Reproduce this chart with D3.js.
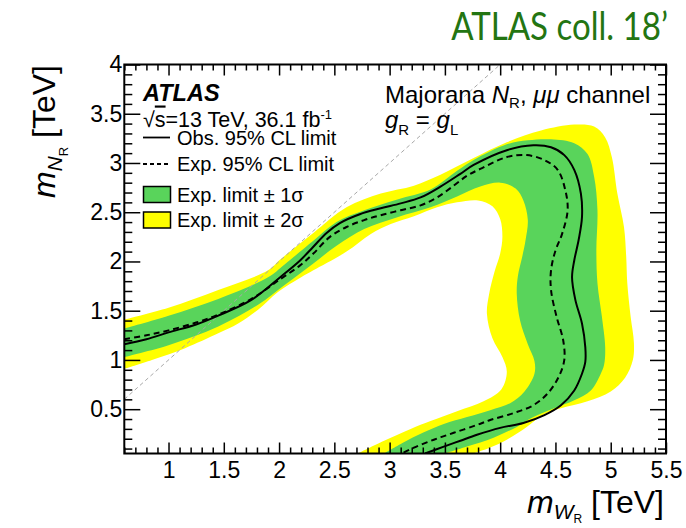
<!DOCTYPE html>
<html>
<head>
<meta charset="utf-8">
<script src="https://cdn.jsdelivr.net/npm/d3@7"></script>
<style>
  body { margin: 0; background: #fff; }
  svg text { font-family: "Liberation Sans", Arial, Helvetica, sans-serif; fill: #000; }
</style>
</head>
<body>
<svg id="chart" width="686" height="528"></svg>
<script>
// Axis ranges and tick labels (TeV)
const xDomain = [0.6, 5.5];
const yDomain = [0.05, 4];
const xTicks = [1, 1.5, 2, 2.5, 3, 3.5, 4, 4.5, 5, 5.5];
const yTicks = [0.5, 1, 1.5, 2, 2.5, 3, 3.5, 4];

// Limit contours as [m_WR, m_NR] pairs in TeV
const observed = [[0.60,1.16],[0.80,1.21],[1.00,1.28],[1.25,1.36],[1.45,1.45],[1.75,1.61],[2.01,1.84],[2.19,2.01],[2.31,2.15],[2.43,2.29],[2.55,2.39],[2.73,2.48],[2.92,2.54],[3.10,2.59],[3.28,2.65],[3.46,2.76],[3.64,2.89],[3.76,2.98],[4.06,3.13],[4.30,3.18],[4.46,3.16],[4.58,3.08],[4.67,2.93],[4.73,2.69],[4.74,2.45],[4.71,2.22],[4.67,2.01],[4.65,1.84],[4.68,1.61],[4.74,1.37],[4.77,1.13],[4.77,0.98],[4.74,0.86],[4.67,0.69],[4.55,0.54],[4.40,0.44],[4.21,0.36],[4.00,0.31],[3.79,0.24],[3.64,0.18],[3.49,0.12],[3.32,0.05]];
const expected = [[0.60,1.21],[0.80,1.25],[1.00,1.30],[1.25,1.38],[1.45,1.46],[1.75,1.62],[2.01,1.82],[2.19,1.96],[2.31,2.08],[2.46,2.25],[2.61,2.35],[2.77,2.42],[2.92,2.47],[3.10,2.52],[3.28,2.57],[3.43,2.65],[3.58,2.77],[3.70,2.87],[3.82,2.94],[4.06,3.06],[4.24,3.08],[4.40,3.03],[4.52,2.93],[4.59,2.72],[4.61,2.52],[4.56,2.28],[4.50,2.11],[4.46,1.91],[4.46,1.71],[4.51,1.44],[4.57,1.20],[4.58,1.00],[4.53,0.83],[4.43,0.66],[4.30,0.54],[4.12,0.46],[3.91,0.39],[3.79,0.34],[3.58,0.26],[3.40,0.19],[3.22,0.11],[3.11,0.05]];
const plus1 = [[0.60,1.32],[1.00,1.45],[1.45,1.62],[1.90,1.84],[2.05,1.97],[2.31,2.21],[2.52,2.40],[2.77,2.52],[3.07,2.63],[3.37,2.73],[3.61,2.92],[3.76,3.03],[4.06,3.19],[4.25,3.23],[4.46,3.24],[4.67,3.20],[4.79,3.09],[4.85,2.86],[4.88,2.52],[4.87,2.11],[4.88,1.78],[4.92,1.44],[4.95,1.13],[4.94,0.95],[4.91,0.86],[4.82,0.69],[4.67,0.59],[4.49,0.51],[4.30,0.42],[4.15,0.32],[3.94,0.21],[3.70,0.12],[3.50,0.05]];
const minus1 = [[0.60,1.03],[1.00,1.15],[1.45,1.34],[1.81,1.56],[2.05,1.76],[2.31,1.98],[2.52,2.16],[2.77,2.33],[3.07,2.45],[3.37,2.55],[3.61,2.66],[3.82,2.76],[4.00,2.80],[4.14,2.74],[4.21,2.62],[4.25,2.42],[4.23,2.22],[4.20,2.05],[4.16,1.85],[4.15,1.67],[4.18,1.40],[4.25,1.16],[4.31,0.99],[4.31,0.86],[4.22,0.68],[4.09,0.56],[3.91,0.49],[3.70,0.42],[3.49,0.35],[3.30,0.26],[3.12,0.16],[2.95,0.05]];
const plus2 = [[0.60,1.41],[1.00,1.53],[1.45,1.71],[1.90,1.91],[2.01,2.02],[2.31,2.29],[2.61,2.55],[2.92,2.69],[3.22,2.77],[3.46,2.88],[3.76,3.05],[4.06,3.21],[4.37,3.33],[4.67,3.39],[4.85,3.37],[4.95,3.26],[5.01,3.06],[5.06,2.69],[5.12,2.35],[5.14,2.05],[5.15,1.78],[5.18,1.44],[5.21,1.17],[5.20,1.00],[5.13,0.82],[5.00,0.68],[4.79,0.58],[4.55,0.51],[4.40,0.45],[4.24,0.32],[4.06,0.19],[3.91,0.11],[3.76,0.05]];
const minus2 = [[0.60,0.91],[0.85,1.00],[1.15,1.12],[1.45,1.27],[1.63,1.37],[1.81,1.51],[1.99,1.69],[2.20,1.84],[2.31,1.91],[2.61,2.10],[2.83,2.28],[3.01,2.38],[3.22,2.46],[3.43,2.55],[3.61,2.60],[3.80,2.62],[3.93,2.56],[4.00,2.43],[4.02,2.25],[4.00,2.08],[3.95,1.90],[3.90,1.67],[3.88,1.47],[3.93,1.22],[4.02,1.03],[4.06,0.88],[4.01,0.70],[3.85,0.58],[3.61,0.48],[3.37,0.38],[3.19,0.30],[2.95,0.18],[2.71,0.05]];
// m_NR = m_WR reference line
const diagonal = [[0.6,0.6],[4,4]];

const colors = { band1: "#59d45b", band2: "#ffff00", title: "#237512", diag: "#a8a8a8" };

const svg = d3.select("#chart");
const x = d3.scaleLinear().domain(xDomain).range([124.3, 666]);
const y = d3.scaleLinear().domain(yDomain).range([453.5, 64.5]);

svg.append("defs").append("clipPath").attr("id", "plotArea")
  .append("rect")
  .attr("x", x(xDomain[0])).attr("y", y(yDomain[1]))
  .attr("width", x(xDomain[1]) - x(xDomain[0]))
  .attr("height", y(yDomain[0]) - y(yDomain[1]));

const line = d3.line().x(d => x(d[0])).y(d => y(d[1])).curve(d3.curveCatmullRom.alpha(0.5));
const straight = d3.line().x(d => x(d[0])).y(d => y(d[1]));
function band(outer, inner) {
  const a = line(outer);
  const b = line(inner.slice().reverse());
  return a + "L" + b.slice(1) + "Z";
}

const plot = svg.append("g").attr("clip-path", "url(#plotArea)");
plot.append("path").attr("d", band(plus2, minus2)).attr("fill", colors.band2);
plot.append("path").attr("d", band(plus1, minus1)).attr("fill", colors.band1);
plot.append("path").attr("d", straight(diagonal)).attr("fill", "none")
  .attr("stroke", colors.diag).attr("stroke-width", 1).attr("stroke-dasharray", "4,3");
plot.append("path").attr("d", line(expected)).attr("fill", "none")
  .attr("stroke", "#000").attr("stroke-width", 2).attr("stroke-dasharray", "6,4");
plot.append("path").attr("d", line(observed)).attr("fill", "none")
  .attr("stroke", "#000").attr("stroke-width", 2);

// Axes: major and minor ticks on all four sides, pointing inward
const xMinor = d3.range(6, 56).map(v => v / 10).filter(v => !xTicks.some(t => Math.abs(t - v) < 1e-6));
const yMinor = d3.range(1, 40).map(v => v / 10).filter(v => !yTicks.some(t => Math.abs(t - v) < 1e-6));
const x0 = x(xDomain[0]), x1 = x(xDomain[1]), y0 = y(yDomain[0]), y1 = y(yDomain[1]);

function styleAxis(g) {
  g.select(".domain").remove();
  g.selectAll(".tick line").attr("stroke", "#000").attr("stroke-width", 1.5);
  g.selectAll(".tick text").attr("font-size", 23).attr("font-family", "Liberation Sans, Arial, sans-serif");
}
svg.append("g").attr("transform", `translate(0,${y0})`)
  .call(d3.axisBottom(x).tickValues(xTicks).tickSize(-11).tickPadding(8).tickFormat(d3.format("")))
  .call(styleAxis);
svg.append("g").attr("transform", `translate(0,${y0})`)
  .call(d3.axisBottom(x).tickValues(xMinor).tickSize(-6).tickFormat(""))
  .call(styleAxis);
svg.append("g").attr("transform", `translate(0,${y1})`)
  .call(d3.axisTop(x).tickValues(xTicks).tickSize(-11).tickFormat(""))
  .call(styleAxis);
svg.append("g").attr("transform", `translate(0,${y1})`)
  .call(d3.axisTop(x).tickValues(xMinor).tickSize(-6).tickFormat(""))
  .call(styleAxis);
svg.append("g").attr("transform", `translate(${x0},0)`)
  .call(d3.axisLeft(y).tickValues(yTicks).tickSize(-16).tickPadding(2).tickFormat(d3.format("")))
  .call(styleAxis);
svg.append("g").attr("transform", `translate(${x0},0)`)
  .call(d3.axisLeft(y).tickValues(yMinor).tickSize(-8).tickFormat(""))
  .call(styleAxis);
svg.append("g").attr("transform", `translate(${x1},0)`)
  .call(d3.axisRight(y).tickValues(yTicks).tickSize(-16).tickFormat(""))
  .call(styleAxis);
svg.append("g").attr("transform", `translate(${x1},0)`)
  .call(d3.axisRight(y).tickValues(yMinor).tickSize(-8).tickFormat(""))
  .call(styleAxis);

svg.append("rect").attr("x", x0).attr("y", y1).attr("width", x1 - x0).attr("height", y0 - y1)
  .attr("fill", "none").attr("stroke", "#000").attr("stroke-width", 2);

// Axis titles
const xt = svg.append("text").attr("x", 664).attr("y", 513).attr("text-anchor", "end").attr("font-size", 32);
xt.append("tspan").attr("font-style", "italic").text("m");
xt.append("tspan").attr("font-style", "italic").attr("font-size", 21).attr("dy", 6).text("W");
xt.append("tspan").attr("font-size", 12).attr("dy", 4).text("R");
xt.append("tspan").attr("dy", -10).text(" [TeV]");

const yt = svg.append("text").attr("transform", "translate(55,65) rotate(-90)")
  .attr("text-anchor", "end").attr("font-size", 32);
yt.append("tspan").attr("font-style", "italic").text("m");
yt.append("tspan").attr("font-style", "italic").attr("font-size", 21).attr("dy", 7).text("N");
yt.append("tspan").attr("font-size", 13).attr("dy", 6).text("R");
yt.append("tspan").attr("dy", -13).text(" [TeV]");

// Header, horizontally narrowed to the width of the original typeface
svg.append("g").attr("transform", "translate(668,40) scale(0.87,1)")
  .append("text").attr("x", 0).attr("y", 0).attr("text-anchor", "end")
  .attr("font-size", 38)
  .style("font-family", "Lato, 'Open Sans', sans-serif")
  .style("fill", colors.title).text("ATLAS coll. 18\u2019");

// Legend block
svg.append("text").attr("x", 143).attr("y", 100.5).attr("font-size", 23.5)
  .attr("font-weight", "bold").attr("font-style", "italic").text("ATLAS");
const lumi = svg.append("text").attr("x", 143).attr("y", 126.5).attr("font-size", 21.5);
lumi.append("tspan").text("\u221A");
lumi.append("tspan").style("text-decoration", "overline").text("s");
lumi.append("tspan").text("=13 TeV, 36.1 fb");
lumi.append("tspan").attr("font-size", 13).attr("dy", -8).text("-1");

const legendEntries = [
  { label: "Obs. 95% CL limit", kind: "solid" },
  { label: "Exp. 95% CL limit", kind: "dashed" },
  { label: "Exp. limit \u00B1 1\u03C3", kind: "band1" },
  { label: "Exp. limit \u00B1 2\u03C3", kind: "band2" }
];
const legendY = [137.5, 164, 194.5, 220];
legendEntries.forEach((e, i) => {
  const cy = legendY[i];
  if (e.kind === "solid" || e.kind === "dashed") {
    svg.append("line").attr("x1", 143).attr("x2", 170).attr("y1", cy).attr("y2", cy)
      .attr("stroke", "#000").attr("stroke-width", 1.8)
      .attr("stroke-dasharray", e.kind === "dashed" ? "4,3" : null);
  } else {
    svg.append("rect").attr("x", 143.5).attr("y", cy - 8).attr("width", 27).attr("height", 16)
      .attr("fill", colors[e.kind]).attr("stroke", "#000").attr("stroke-width", 1.5);
  }
  svg.append("text").attr("x", 177).attr("y", cy + 7).attr("font-size", 20).text(e.label);
});

// Model description
const model = svg.append("text").attr("x", 385).attr("y", 102.5).attr("font-size", 24);
model.append("tspan").text("Majorana ");
model.append("tspan").attr("font-style", "italic").text("N");
model.append("tspan").attr("font-size", 15).attr("dy", 5).text("R");
model.append("tspan").attr("dy", -5).text(", ");
model.append("tspan").attr("font-style", "italic").text("\u03BC\u03BC");
model.append("tspan").text(" channel");

const coupling = svg.append("text").attr("x", 385).attr("y", 127.5).attr("font-size", 24);
coupling.append("tspan").attr("font-style", "italic").text("g");
coupling.append("tspan").attr("font-size", 15).attr("dy", 7).text("R");
coupling.append("tspan").attr("dy", -7).text(" = ");
coupling.append("tspan").attr("font-style", "italic").text("g");
coupling.append("tspan").attr("font-size", 15).attr("dy", 7).text("L");
</script>
</body>
</html>
